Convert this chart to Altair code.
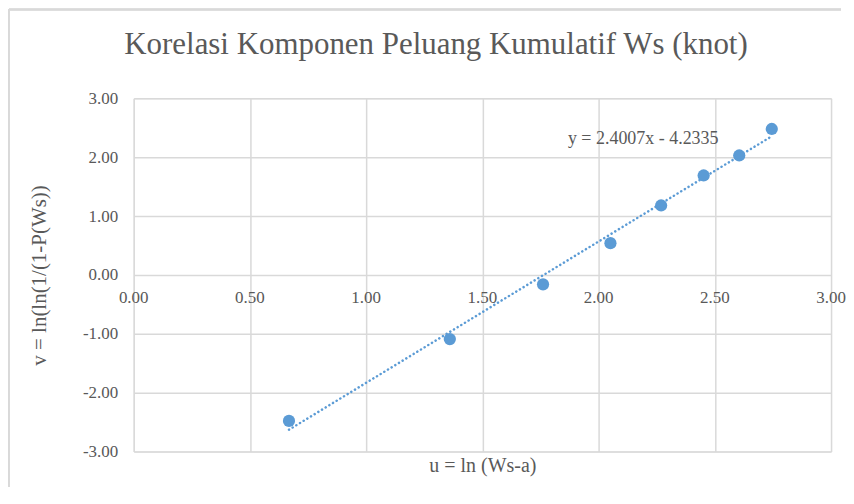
import altair as alt
import pandas as pd

# ---- data ----
u_values = [0.668, 1.360, 1.761, 2.051, 2.269, 2.452, 2.605, 2.745]
v_values = [-2.48, -1.09, -0.16, 0.54, 1.18, 1.69, 2.03, 2.48]
slope = 2.4007
intercept = -4.2335
x_ticks = [0, 0.5, 1, 1.5, 2, 2.5, 3]
y_ticks = [-3, -2, -1, 0, 1, 2, 3]
title_text = "Korelasi Komponen Peluang Kumulatif Ws (knot)"
x_title = "u = ln (Ws-a)"
y_title = "v = ln(ln(1/(1-P(Ws))"
eq_label = "y = 2.4007x - 4.2335"
eq_u = [1.868]
eq_v = [2.317]

W, H = 699, 354
FONT = "Liberation Serif"
TXT = "#595959"
GRID = "#d9d9d9"
BLUE = "#5b9bd5"

df = pd.DataFrame({"u": u_values, "v": v_values})
lab = pd.DataFrame({"u": eq_u, "v": eq_v, "t": [eq_label]})
xt = pd.DataFrame({"u": x_ticks, "v": [0] * len(x_ticks)})
tt = pd.DataFrame({"t": [title_text]})

xs = alt.Scale(domain=[0, 3], nice=False, zero=False)
ys = alt.Scale(domain=[-3, 3], nice=False, zero=False)

xaxis = alt.Axis(values=x_ticks, grid=True, labels=False, ticks=False,
                 domain=False, gridColor=GRID, gridWidth=1.5,
                 title=x_title, titleFont=FONT, titleFontSize=20,
                 titleColor=TXT, titleFontWeight="normal", titlePadding=4)
yaxis = alt.Axis(values=y_ticks, grid=True, ticks=False,
                 labelExpr="(datum.value < 0 ? '-' : '') + format(abs(datum.value), '.2f')",
                 domain=False, gridColor=GRID, gridWidth=1.5,
                 labelFont=FONT, labelFontSize=17, labelColor=TXT,
                 labelPadding=16, title=y_title, titleFont=FONT,
                 titleFontSize=21, titleColor=TXT, titleFontWeight="normal",
                 titleAngle=270, titleX=-94, titleY=H / 2,
                 titleAlign="center", titleBaseline="middle")


def X(field):
    return alt.X(field, scale=xs, axis=xaxis)


def Y(field):
    return alt.Y(field, scale=ys, axis=yaxis)


base = alt.Chart(df).mark_point(opacity=0).encode(x=X("u:Q"), y=Y("v:Q"))

# x tick labels sitting under the y = 0 line (Excel style)
xlab = alt.Chart(xt).mark_text(font=FONT, fontSize=17, color=TXT, baseline="middle", dy=23).encode(
    x=X("u:Q"), y=Y("v:Q"), text=alt.Text("u:Q", format=".2f"),
)

trend = alt.Chart(df).transform_calculate(
    fit=f"{slope} * datum.u + ({intercept})"
).mark_line(color=BLUE, strokeWidth=2.5, strokeDash=[0.1, 4.2], strokeCap="round").encode(
    x=X("u:Q"), y=Y("fit:Q"),
)

pts = alt.Chart(df).mark_circle(color=BLUE, size=150, opacity=1).encode(x=X("u:Q"), y=Y("v:Q"))

eq = alt.Chart(lab).mark_text(font=FONT, fontSize=18, color=TXT, align="left", baseline="middle").encode(
    x=X("u:Q"), y=Y("v:Q"), text="t:N",
)

title = alt.Chart(tt).mark_text(font=FONT, fontSize=31, color=TXT, align="center",
                                baseline="middle").encode(
    x=alt.value(303), y=alt.value(-53), text="t:N"
)

border_v = alt.Chart(df).mark_rule(color=GRID, strokeWidth=1.5).encode(
    x=alt.value(-125), y=alt.value(-89), y2=alt.value(H + 35)
)
border_h = alt.Chart(df).mark_rule(color=GRID, strokeWidth=1.5).encode(
    x=alt.value(-125), x2=alt.value(W + 10), y=alt.value(-89)
)

chart = alt.layer(base, border_v, border_h, title, xlab, trend, pts, eq).properties(
    width=W, height=H, padding=0,
).configure_view(stroke=None).configure(background="white")

chart.save("out.html", embed_options={"renderer": "svg", "actions": False})
